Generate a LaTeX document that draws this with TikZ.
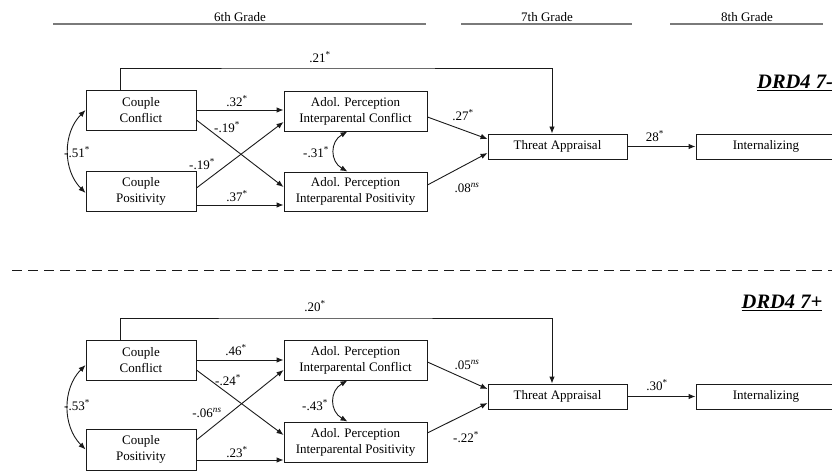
\documentclass[tikz,border=0pt]{standalone}
\usepackage{fontspec}
\setmainfont{Liberation Serif}
\usetikzlibrary{arrows.meta, positioning, calc}
\definecolor{rule}{HTML}{7A7A7A}
\definecolor{ink}{HTML}{1A1A1A}
\tikzset{
  varbox/.style={draw=ink, line width=0.9pt, align=center, inner sep=0pt,
    font=\fontsize{13}{16}\selectfont},
  patharrow/.style={draw=ink, line width=0.9pt, -{Latex[length=7pt,width=5.5pt]}},
  covarrow/.style={draw=ink, line width=0.9pt,
    {Latex[length=7pt,width=5.5pt]}-{Latex[length=7pt,width=5.5pt]}},
  coef/.style={inner sep=0pt, font=\fontsize{13}{15}\selectfont},
  gradelabel/.style={inner sep=0pt, font=\fontsize{13}{15}\selectfont},
  graderule/.style={draw=rule, line width=1.2pt},
  grouplabel/.style={inner sep=0pt, font=\fontsize{20.5}{22}\selectfont\bfseries\itshape}
}
\newcommand{\sig}{\textsuperscript{*}}
\newcommand{\nsig}{\textsuperscript{\textit{ns}}}

\begin{document}
\begin{tikzpicture}[x=1pt, y=-1pt]
  \useasboundingbox (0,0) rectangle (832,473);

  % grades
  \node[gradelabel] (g6) at (240,17) {6th Grade};
  \node[gradelabel] (g7) at (547,17) {7th Grade};
  \node[gradelabel] (g8) at (747,17) {8th Grade};
  \draw[graderule] (53,24) -- (426,24);
  \draw[graderule] (461,24) -- (632,24);
  \draw[graderule] (670,24) -- (823,24);

  % DRD4 7- group
  \node[grouplabel, anchor=west] (grp1) at (757,83) {\underline{DRD4 7-}};
  \node[varbox, minimum width=110pt, minimum height=40pt] (cc1) at (141,110) {Couple\\Conflict};
  \node[varbox, minimum width=110pt, minimum height=40pt] (cp1) at (141,191) {Couple\\Positivity};
  \node[varbox, minimum width=143pt, minimum height=40pt] (ac1) at (355.5,111) {Adol. Perception\\Interparental Conflict};
  \node[varbox, minimum width=143pt, minimum height=39pt] (ap1) at (355.5,191.5) {Adol. Perception\\Interparental Positivity};
  \node[varbox, minimum width=139pt, minimum height=25pt] (ta1) at (557.5,146.5) {Threat Appraisal};
  \node[varbox, minimum width=140pt, minimum height=25pt] (in1) at (766,146.5) {Internalizing};
  \coordinate (top1) at (320,68);

  \draw[patharrow] ([xshift=-21pt]cc1.north) |- (top1) -| ([xshift=-5.5pt]ta1.north);
  \draw[patharrow] (cc1.east) -- (cc1.east -| ac1.west);
  \draw[patharrow] ([yshift=-10pt]cc1.east) -- ([yshift=4.5pt]ap1.west);
  \draw[patharrow] ([yshift=3pt]cp1.east) -- ([yshift=-11pt]ac1.west);
  \draw[patharrow] ([yshift=-14pt]cp1.east) -- ([yshift=-14pt]cp1.east -| ap1.west);
  \draw[patharrow] ([yshift=-6pt]ac1.east) -- ([yshift=7.5pt]ta1.west);
  \draw[patharrow] ([yshift=6.5pt]ap1.east) -- ([yshift=-6.5pt]ta1.west);
  \draw[patharrow] (ta1.east) -- (in1.west);
  \draw[covarrow] (cc1.west) to[out=225, in=135] ([yshift=-2pt]cp1.west);
  \draw[covarrow] ([xshift=-8pt]ac1.south) to[out=210, in=150, looseness=1.3] ([xshift=-8pt]ap1.north);

  \node[coef] (b21) at (320,57) {.21\sig};
  \node[coef] (b32) at (237,101) {.32\sig};
  \node[coef] (b19a) at (227,127) {-.19\sig};
  \node[coef] (b19b) at (202,164) {-.19\sig};
  \node[coef] (b37) at (237,196) {.37\sig};
  \node[coef] (r51) at (77,152) {-.51\sig};
  \node[coef] (r31) at (316,152) {-.31\sig};
  \node[coef] (b27) at (463,115) {.27\sig};
  \node[coef] (b08) at (467,188) {.08\nsig};
  \node[coef] (b28) at (655,136) {28\sig};

  % separator
  \draw[ink, line width=0.9pt, dash pattern=on 10pt off 6pt] (12,270) -- (832,270);

  % DRD4 7+ group
  \node[grouplabel] (grp2) at (782,303) {\underline{DRD4 7+}};
  \node[varbox, minimum width=110pt, minimum height=40pt] (cc2) at (141,360) {Couple\\Conflict};
  \node[varbox, minimum width=110pt, minimum height=41pt] (cp2) at (141,449.5) {Couple\\Positivity};
  \node[varbox, minimum width=143pt, minimum height=40pt] (ac2) at (355.5,360) {Adol. Perception\\Interparental Conflict};
  \node[varbox, minimum width=143pt, minimum height=40pt] (ap2) at (355.5,442) {Adol. Perception\\Interparental Positivity};
  \node[varbox, minimum width=139pt, minimum height=25pt] (ta2) at (557.5,396.5) {Threat Appraisal};
  \node[varbox, minimum width=140pt, minimum height=25pt] (in2) at (766,396.5) {Internalizing};
  \coordinate (top2) at (315,318);

  \draw[patharrow] ([xshift=-21pt]cc2.north) |- (top2) -| ([xshift=-5.5pt]ta2.north);
  \draw[patharrow] (cc2.east) -- (cc2.east -| ac2.west);
  \draw[patharrow] ([yshift=-10pt]cc2.east) -- ([yshift=7pt]ap2.west);
  \draw[patharrow] ([yshift=9.5pt]cp2.east) -- ([yshift=-10pt]ac2.west);
  \draw[patharrow] ([yshift=-10.5pt]cp2.east) -- ([yshift=-10.5pt]cp2.east -| ap2.west);
  \draw[patharrow] ([yshift=-2pt]ac2.east) -- ([yshift=7.5pt]ta2.west);
  \draw[patharrow] ([yshift=9pt]ap2.east) -- ([yshift=-6.5pt]ta2.west);
  \draw[patharrow] (ta2.east) -- (in2.west);
  \draw[covarrow] ([yshift=-5pt]cc2.west) to[out=225, in=135] (cp2.west);
  \draw[covarrow] ([xshift=-8pt]ac2.south) to[out=210, in=150, looseness=1.3] ([xshift=-8pt]ap2.north);

  \node[coef] (b20) at (315,306) {.20\sig};
  \node[coef] (b46) at (236,350) {.46\sig};
  \node[coef] (b24) at (228,380) {-.24\sig};
  \node[coef] (b06) at (207,413) {-.06\nsig};
  \node[coef] (b23) at (237,452) {.23\sig};
  \node[coef] (r53) at (77,405) {-.53\sig};
  \node[coef] (r43) at (315,405) {-.43\sig};
  \node[coef] (b05) at (467,365) {.05\nsig};
  \node[coef] (b22) at (466,437) {-.22\sig};
  \node[coef] (b30) at (657,385) {.30\sig};
\end{tikzpicture}
\end{document}
